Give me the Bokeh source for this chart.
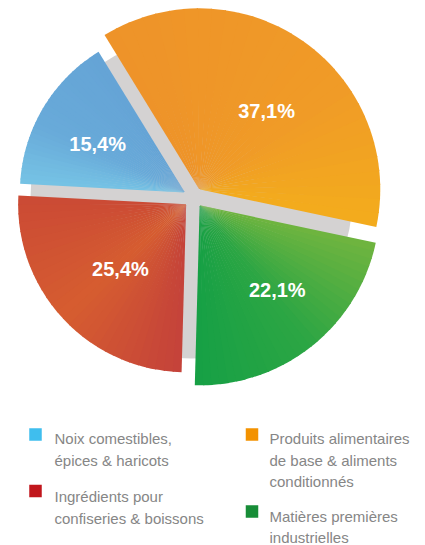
import numpy as np
from bokeh.plotting import figure
from bokeh.models import Range1d
from bokeh.embed import file_html
from bokeh.resources import INLINE
from bokeh.core.properties import value

# ---------------- data ----------------
pie_categories = ["Produits alimentaires de base & aliments conditionnés",
                  "Noix comestibles, épices & haricots",
                  "Ingrédients pour confiseries & boissons",
                  "Matières premières industrielles"]
pie_shares = [37.1, 15.4, 25.4, 22.1]
pie_labels = ["37,1%", "15,4%", "25,4%", "22,1%"]

legend_lines = [["Noix comestibles,", "épices & haricots"],
                ["Produits alimentaires", "de base & aliments", "conditionnés"],
                ["Ingrédients pour", "confiseries & boissons"],
                ["Matières premières", "industrielles"]]

# ---------------- styles ----------------
W, H = 425, 545
def sy(v):  # screen y -> data y
    return 545 - v

CX, CY = 193, sy(197)
START_DEG = -12
EXPLODE = 10
slice_radius = [181, 165, 168, 180]
label_dist = [103, 100, 92, 115]
label_shift = [-5.6, 1.5, 1.7, 4.2]
# gradient stops per slice: (fraction, colour)
slice_grad = [
    [(0.0, "#F3AC1C"), (0.35, "#F09B27"), (1.0, "#EE9329")],
    [(0.0, "#65A4D6"), (0.6, "#68AAD9"), (1.0, "#76C3E5")],
    [(0.0, "#CB4A35"), (0.5, "#D65D30"), (1.0, "#C4423A")],
    [(0.0, "#16A045"), (0.5, "#2CA644"), (1.0, "#70B43F")],
]
legend_colors = ["#3FBEEE", "#F39200", "#C1161C", "#178D37"]
legend_sq_x = [35, 251.5, 35, 251.5]
legend_sq_y = [434, 434, 490.5, 511]
legend_tx_x = [54, 269, 54, 269]
legend_tx_y = [438, 438, 496, 515.5]
LINE_H = 21.7

p = figure(width=W, height=H, output_backend="svg", toolbar_location=None,
           x_range=Range1d(0, W), y_range=Range1d(sy(H), sy(0)),
           min_border=0)
p.axis.visible = False
p.xgrid.visible = False
p.ygrid.visible = False
p.outline_line_color = None
p.background_fill_color = "white"
p.border_fill_color = "white"

# gray background disc
p.circle(x=[191], y=[sy(197)], radius=161, fill_color="#D4D2D2", line_color=None)

def hex2rgb(h):
    h = h.lstrip("#")
    return np.array([int(h[i:i + 2], 16) for i in (0, 2, 4)], dtype=float)

def interp(stops, f):
    for (f0, c0), (f1, c1) in zip(stops[:-1], stops[1:]):
        if f0 <= f <= f1:
            t = (f - f0) / (f1 - f0) if f1 > f0 else 0
            c = hex2rgb(c0) * (1 - t) + hex2rgb(c1) * t
            return "#%02x%02x%02x" % tuple(int(round(v)) for v in c)
    return stops[-1][1]

total = sum(pie_shares)
angles = np.cumsum([0] + [s / total * 360 for s in pie_shares])
N = 30
for i, share in enumerate(pie_shares):
    a0 = START_DEG + angles[i]
    a1 = START_DEG + angles[i + 1]
    mid = np.radians((a0 + a1) / 2)
    cx = CX + EXPLODE * np.cos(mid)
    cy = CY + EXPLODE * np.sin(mid)
    edges = np.linspace(a0, a1, N + 1)
    xs, ys, st, en, cols = [], [], [], [], []
    for k in range(N):
        xs.append(cx); ys.append(cy)
        st.append(np.radians(edges[k]))
        en.append(np.radians(edges[k + 1] + (0.4 if k < N - 1 else 0)))
        cols.append(interp(slice_grad[i], (k + 0.5) / N))
    p.wedge(x=xs, y=ys, radius=slice_radius[i], start_angle=st, end_angle=en,
            fill_color=cols, line_color=None)
    la = mid + np.radians(label_shift[i])
    p.text(x=[cx + label_dist[i] * np.cos(la)], y=[cy + label_dist[i] * np.sin(la)],
           text=[pie_labels[i]], text_align="center", text_baseline="middle",
           text_color="white", text_font=value("Liberation Sans"),
           text_font_style="bold", text_font_size="20px")

# legend
for i, lines in enumerate(legend_lines):
    p.rect(x=[legend_sq_x[i]], y=[sy(legend_sq_y[i])], width=12.5, height=12.5,
           fill_color=legend_colors[i], line_color=None)
    p.text(x=[legend_tx_x[i]] * len(lines),
           y=[sy(legend_tx_y[i] + j * LINE_H) for j in range(len(lines))],
           text=lines, text_align="left", text_baseline="alphabetic",
           text_color="#868686", text_font=value("Liberation Sans"),
           text_font_size="15px")

open("out.html", "w").write(file_html(p, INLINE))
